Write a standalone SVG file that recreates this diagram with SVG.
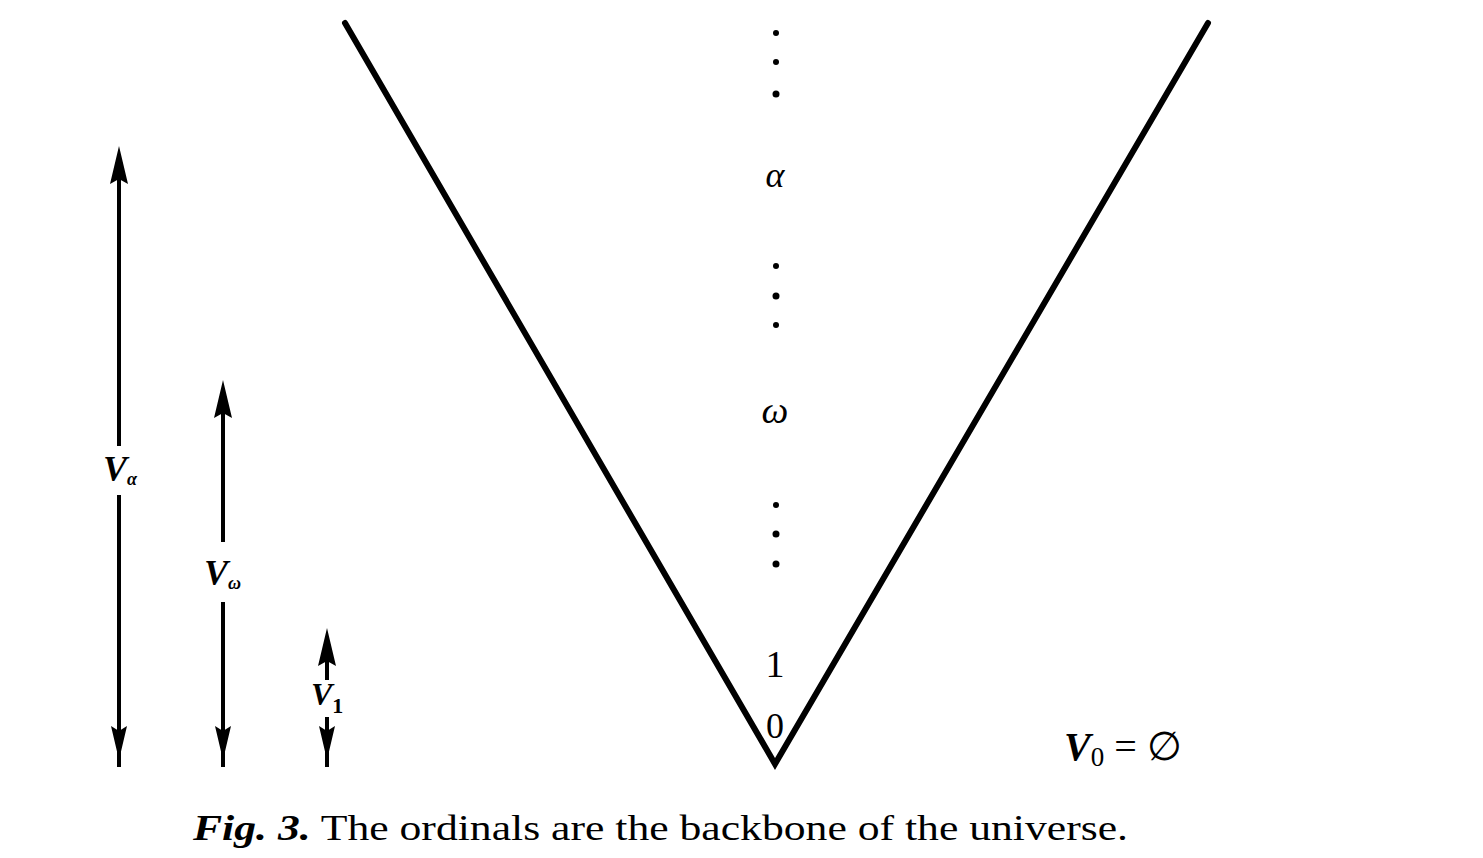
<svg xmlns="http://www.w3.org/2000/svg" width="1483" height="858" viewBox="0 0 1483 858">
<style>
.ln{stroke:#000;stroke-width:6;fill:none;stroke-linecap:round;stroke-linejoin:miter}
.ar{stroke:#000;stroke-width:4;fill:none}
.t{font-family:Times New Roman, Liberation Serif, Times, serif;fill:#000}
.vi{font-style:italic;font-weight:bold}
</style>
<defs>
<polygon id="up" points="0,0 -9,38 0,33 9,38" fill="#000"/>
<polygon id="dn" points="0,0 -8,-34 0,-29 8,-34" fill="#000"/>
</defs>
<rect width="1483" height="858" fill="#fff"/>
<g id="connectors">
<polyline class="ln" points="345,23 775,764 1208,23"/>
</g>
<g id="ordinals">
<circle cx="776" cy="33" r="3"/>
<circle cx="776" cy="62" r="3"/>
<circle cx="776" cy="94" r="3.5"/>
<text class="t" x="775" y="187" font-size="36" font-style="italic" text-anchor="middle">α</text>
<circle cx="776" cy="266" r="3"/>
<circle cx="776" cy="296" r="3.5"/>
<circle cx="776" cy="325" r="3"/>
<text class="t" x="775" y="423" font-size="38" font-style="italic" text-anchor="middle">ω</text>
<circle cx="776" cy="505" r="3"/>
<circle cx="776" cy="534" r="3.5"/>
<circle cx="776" cy="564" r="3.5"/>
<text class="t" x="775" y="677" font-size="38" text-anchor="middle">1</text>
<text class="t" x="775" y="738" font-size="36" text-anchor="middle">0</text>
</g>
<g id="V_alpha">
<line class="ar" x1="119" y1="170" x2="119" y2="446"/>
<line class="ar" x1="119" y1="495" x2="119" y2="767"/>
<use href="#up" x="119" y="146"/>
<use href="#dn" x="119" y="760"/>
<text class="t vi" x="103" y="481" font-size="36">V<tspan font-size="18" dy="4">α</tspan></text>
</g>
<g id="V_omega">
<line class="ar" x1="223" y1="400" x2="223" y2="542"/>
<line class="ar" x1="223" y1="602" x2="223" y2="767"/>
<use href="#up" x="223" y="380"/>
<use href="#dn" x="223" y="760"/>
<text class="t vi" x="204" y="585" font-size="36">V<tspan font-size="18" dy="4">ω</tspan></text>
</g>
<g id="V_1">
<line class="ar" x1="327" y1="650" x2="327" y2="680"/>
<line class="ar" x1="327" y1="717" x2="327" y2="767"/>
<use href="#up" x="327" y="628"/>
<use href="#dn" x="327" y="760"/>
<text class="t vi" x="311" y="705" font-size="32">V<tspan font-size="22" dy="8" font-style="normal">1</tspan></text>
</g>
<g id="V0">
<text class="t" x="1064" y="760" font-size="40"><tspan class="vi">V</tspan><tspan font-size="27" dy="6">0</tspan><tspan dy="-6"> = ∅</tspan></text>
</g>
<g id="caption">
<text class="t" x="193" y="840" font-size="36" textLength="935" lengthAdjust="spacingAndGlyphs"><tspan class="vi">Fig. 3.</tspan>  The ordinals are the backbone of the universe.</text>
</g>
</svg>
